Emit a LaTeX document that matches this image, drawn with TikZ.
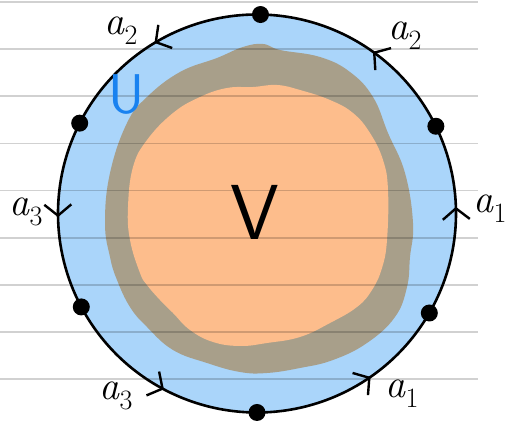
\documentclass[tikz,border=0pt]{standalone}
\usetikzlibrary{positioning, calc, arrows.meta, decorations.markings}
\definecolor{diskblue}{RGB}{170,213,250}
\definecolor{ringbrown}{RGB}{168,159,138}
\definecolor{coreorange}{RGB}{253,189,140}
\definecolor{labelblue}{RGB}{25,130,240}
\newcommand{\sidename}[2]{\textit{#1}\textsubscript{#2}}
\tikzset{
  vertex/.style = {circle, fill=black, inner sep=0pt, minimum size=17pt},
  rim/.style    = {line width=2.6pt, postaction=decorate,
                   decoration={markings, mark=at position #1 with {\arrow{Straight Barb[length=11pt, width=27pt, line width=2.4pt]}}}},
  elabel/.style = {font=\fontsize{40}{44}\selectfont},
  ruling/.style = {black, opacity=0.18, line width=1.6pt}
}
\begin{document}
\begin{tikzpicture}[x=1pt, y=1pt]
  \useasboundingbox (0,0) rectangle (507,425);
  \coordinate (C) at (257,211.5);
  % disc U
  \fill[diskblue] (C) circle[radius=199pt];
  % collar and core V
  \fill[ringbrown] plot[smooth cycle, tension=0.7] coordinates {
    (263,381) (280,375) (320,368) (350,353) (373,328) (388,292) (405,252)
    (413,202) (410,168) (407,138) (395,108) (367,82) (333,65) (300,57)
    (267,52) (240,53) (207,62) (173,75) (147,98) (130,118) (117,145)
    (110,168) (105,202) (110,252) (127,302) (147,328) (180,353) (217,367) (243,378)};
  \fill[coreorange] plot[smooth cycle, tension=0.7] coordinates {
    (253,338) (277,340) (300,335) (330,325) (353,312) (370,292) (383,265)
    (388,235) (387,185) (382,157) (372,135) (357,118) (330,102) (300,88)
    (267,82) (240,79) (213,83) (190,95) (173,112) (160,125) (147,140)
    (140,152) (130,185) (128,218) (133,258) (147,285) (173,312) (200,328) (227,337)};
  % ruled paper
  \foreach \k in {0,...,8}
    \draw[ruling] (0,{423-47.15*\k}) -- (478,{423-47.15*\k});
  % vertices on the boundary
  \foreach \n/\ang in {1/-30, 2/26, 3/89, 4/153, 5/208, 6/270}
    \node[vertex] (v\n) at ($(C)+(\ang:199pt)$) {};
  % sides, all oriented counterclockwise
  \draw[rim=0.57] (v1.center) arc[start angle=-30, end angle=26, radius=199pt];
  \draw[rim=0.45] (v2.center) arc[start angle=26, end angle=89, radius=199pt];
  \draw[rim=0.50] (v3.center) arc[start angle=89, end angle=153, radius=199pt];
  \draw[rim=0.51] (v4.center) arc[start angle=153, end angle=208, radius=199pt];
  \draw[rim=0.55] (v5.center) arc[start angle=208, end angle=270, radius=199pt];
  \draw[rim=0.58] (v6.center) arc[start angle=270, end angle=330, radius=199pt];
  % side labels
  \node[elabel] (a1r) at (490,216) {\sidename{a}{1}};
  \node[elabel] (a2r) at (405,389) {\sidename{a}{2}};
  \node[elabel] (a2l) at (121,394) {\sidename{a}{2}};
  \node[elabel] (a3l) at (26,213) {\sidename{a}{3}};
  \node[elabel] (a3b) at (116,29) {\sidename{a}{3}};
  \node[elabel] (a1b) at (402,31) {\sidename{a}{1}};
  % regions
  \node[font=\fontsize{56}{60}\selectfont\sffamily, text=labelblue] (U) at (127,330) {U};
  \node[font=\fontsize{78}{82}\selectfont\sffamily] (V) at (255,213) {V};
\end{tikzpicture}
\end{document}
